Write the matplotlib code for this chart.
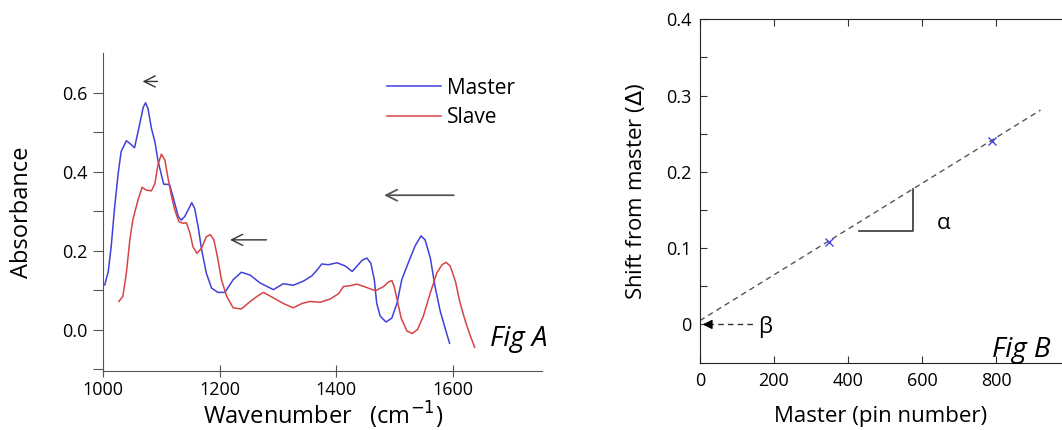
import numpy as np
import matplotlib
matplotlib.use("Agg")
import matplotlib.pyplot as plt

plt.rcParams['font.family'] = ['Open Sans', 'DejaVu Sans']

# Fig A: spectra
master_x = [1003, 1009, 1014, 1020, 1026, 1031, 1040, 1047, 1054, 1063, 1069, 1073,
            1077, 1083, 1089, 1094, 1100, 1104, 1114, 1120, 1129, 1134, 1140, 1146,
            1152, 1157, 1163, 1169, 1177, 1186, 1197, 1209, 1223, 1237, 1252, 1269,
            1292, 1309, 1326, 1344, 1358, 1367, 1375, 1386, 1401, 1415, 1427, 1435,
            1444, 1452, 1459, 1465, 1469, 1475, 1485, 1495, 1504, 1512, 1524, 1535,
            1545, 1552, 1561, 1569, 1578, 1587, 1594]
master_y = [0.113, 0.147, 0.210, 0.311, 0.395, 0.450, 0.478, 0.470, 0.460, 0.521, 0.563, 0.574,
            0.560, 0.509, 0.475, 0.429, 0.392, 0.368, 0.367, 0.336, 0.286, 0.277, 0.286, 0.303,
            0.321, 0.307, 0.261, 0.202, 0.143, 0.105, 0.094, 0.094, 0.126, 0.145, 0.138, 0.118,
            0.101, 0.116, 0.112, 0.123, 0.136, 0.151, 0.166, 0.164, 0.169, 0.161, 0.147, 0.160,
            0.175, 0.181, 0.168, 0.126, 0.067, 0.034, 0.019, 0.029, 0.067, 0.126, 0.172, 0.212,
            0.237, 0.227, 0.181, 0.109, 0.046, 0.000, -0.035]

slave_x = [1027, 1034, 1040, 1046, 1051, 1060, 1067, 1074, 1083, 1089, 1094, 1100,
           1106, 1111, 1117, 1123, 1130, 1137, 1143, 1149, 1154, 1161, 1169, 1177,
           1184, 1190, 1196, 1203, 1212, 1223, 1237, 1249, 1264, 1275, 1292, 1309,
           1326, 1341, 1355, 1372, 1389, 1404, 1412, 1424, 1435, 1449, 1467, 1481,
           1489, 1495, 1499, 1504, 1511, 1521, 1530, 1539, 1549, 1561, 1572, 1581,
           1588, 1595, 1604, 1612, 1621, 1628, 1637]
slave_y = [0.071, 0.084, 0.143, 0.227, 0.277, 0.328, 0.360, 0.353, 0.351, 0.370, 0.416, 0.444,
           0.429, 0.387, 0.340, 0.303, 0.273, 0.269, 0.270, 0.244, 0.210, 0.193, 0.206, 0.235,
           0.240, 0.227, 0.185, 0.126, 0.084, 0.055, 0.052, 0.067, 0.084, 0.094, 0.080, 0.066,
           0.055, 0.066, 0.071, 0.069, 0.077, 0.091, 0.109, 0.111, 0.115, 0.108, 0.098, 0.109,
           0.120, 0.124, 0.109, 0.076, 0.029, -0.004, -0.010, 0.000, 0.034, 0.093, 0.143, 0.164,
           0.170, 0.161, 0.122, 0.067, 0.021, -0.010, -0.045]

# Fig B: pin shifts and fitted line
pins = [350, 790]
shifts = [0.108, 0.240]
fit_x = [0, 920]
fit_y = [0.005, 0.281]

fig = plt.figure(figsize=(10.62, 4.30), dpi=100)

# ---------- Fig A ----------
axA = fig.add_axes([0.0970, 0.1372, 0.4137, 0.7395])
axA.plot(master_x, master_y, color='#4040dc', lw=1.1, label='Master')
axA.plot(slave_x, slave_y, color='#d64444', lw=1.1, label='Slave')
axA.set_xlim(1000, 1753)
axA.set_ylim(-0.105, 0.70)
axA.set_xticks([1000, 1200, 1400, 1600])
yt = np.round(np.arange(-0.1, 0.61, 0.1), 1)
axA.set_yticks(yt)
axA.set_yticklabels([f"{v:.1f}" if abs(v * 10) % 2 == 0 else "" for v in yt])
for s in ['top', 'right']:
    axA.spines[s].set_visible(False)
for s in ['left', 'bottom']:
    axA.spines[s].set_color('#555555')
axA.tick_params(axis='y', direction='out', length=7, color='#555555', labelsize=13, pad=4)
axA.tick_params(axis='x', direction='inout', length=8, color='#555555', labelsize=13, pad=3)
axA.set_xlabel('Wavenumber   (cm$^{-1}$)', fontsize=17, labelpad=1)
axA.set_ylabel('Absorbance', fontsize=17, labelpad=20)
axA.legend(loc='upper left', bbox_to_anchor=(0.623, 0.955), frameon=False, fontsize=15,
           handlelength=2.6, handletextpad=0.25, labelspacing=0.4, borderpad=0)

arr = dict(arrowstyle='->', color='#333333', lw=1.0, mutation_scale=20)
axA.annotate('', xy=(1063, 0.628), xytext=(1098, 0.628), arrowprops=arr)
axA.annotate('', xy=(1213, 0.227), xytext=(1285, 0.227), arrowprops=arr)
axA.annotate('', xy=(1477, 0.340), xytext=(1606, 0.340),
             arrowprops=dict(arrowstyle='->', color='#555555', lw=1.3, mutation_scale=20))
axA.text(1663, -0.025, 'Fig A', fontsize=20, style='italic', va='center', ha='left',
         clip_on=False)

# ---------- Fig B ----------
axB = fig.add_axes([0.659, 0.155, 0.341, 0.800])
axB.plot(fit_x, fit_y, ls='--', color='#555555', lw=1.0, dashes=(4, 3))
axB.plot(pins, shifts, ls='none', marker='x', color='#4646e0', ms=6, mew=1.0)
axB.set_xlim(0, 978)
axB.set_ylim(-0.051, 0.40)
axB.set_xticks([0, 200, 400, 600, 800])
ybt = np.round(np.arange(0.0, 0.401, 0.05), 2)
axB.set_yticks(ybt)
labsB = []
for v in ybt:
    if abs(v) < 1e-9:
        labsB.append('0')
    elif round(v * 100) % 10 == 0:
        labsB.append(f"{v:.1f}")
    else:
        labsB.append('')
axB.set_yticklabels(labsB)
axB.spines['right'].set_visible(False)
for s in ['top', 'left', 'bottom']:
    axB.spines[s].set_color('#222222')
axB.tick_params(axis='both', direction='in', length=5, color='#333333', labelsize=13,
                top=True, pad=6)
axB.set_xlabel('Master (pin number)', fontsize=16, labelpad=12)
axB.set_ylabel('Shift from master ($\\Delta$)', fontsize=16, labelpad=14)

# slope triangle
axB.plot([430, 576, 576], [0.122, 0.122, 0.178], color='#333333', lw=1.2)
axB.text(640, 0.132, '\u03b1', fontsize=16, va='center', ha='left')
# intercept arrow
axB.plot([22, 150], [0.0, 0.0], ls='--', color='#333333', lw=1.0, dashes=(4, 3))
axB.annotate('', xy=(0, 0.0), xytext=(24, 0.0),
             arrowprops=dict(arrowstyle='-|>', color='black', lw=1.0, mutation_scale=14))
axB.text(158, -0.003, '\u03b2', fontsize=16, va='center', ha='left')
axB.text(788, -0.033, 'Fig B', fontsize=20, style='italic', va='center', ha='left',
         clip_on=False)

fig.savefig('out.png', dpi=100)
